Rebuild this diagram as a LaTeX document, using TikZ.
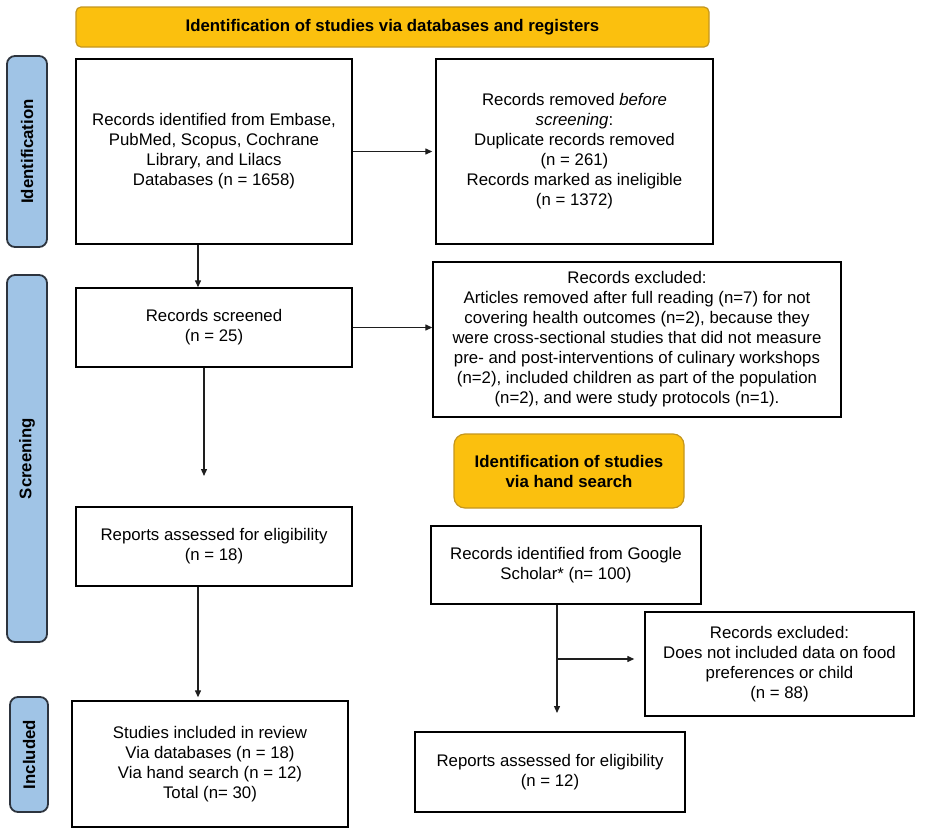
\documentclass[tikz,border=0pt]{standalone}
\usepackage{fontspec}
\setmainfont{Liberation Sans}
\usetikzlibrary{arrows.meta}
\definecolor{bannerfill}{RGB}{251,192,14}
\definecolor{bannerline}{RGB}{196,150,30}
\definecolor{phasefill}{RGB}{160,196,230}
\definecolor{phaseline}{RGB}{45,52,62}
\definecolor{arrline}{RGB}{30,30,30}
\begin{document}
\begin{tikzpicture}[x=1pt, y=-1pt,
		every node/.style={font=\fontsize{16.8}{20}\selectfont, align=center, inner sep=0pt},
		box/.style={draw=black, line width=1.4pt, fill=white},
		banner/.style={draw=bannerline, line width=1.2pt, fill=bannerfill, rounded corners=5pt, font=\fontsize{16.8}{20}\selectfont\bfseries},
		phase/.style={draw=phaseline, line width=1.8pt, fill=phasefill, rounded corners=8pt},
		arr/.style={draw=arrline, line width=1.3pt, -{Triangle[length=7pt, width=6pt]}}]
		\useasboundingbox (0,0) rectangle (935,835);
		\node[banner, minimum width=633pt, minimum height=40pt] (dbbanner) at (392.5,27) {Identification of studies via databases and registers};
		\node[phase, minimum width=40pt, minimum height=191pt] (idphase) at (27,151.5) {};
		\node[rotate=90, font=\fontsize{16.8}{20}\selectfont\bfseries] at (idphase) {Identification};
		\node[phase, minimum width=40pt, minimum height=367pt] (scrphase) at (27,458.5) {};
		\node[rotate=90, font=\fontsize{16.8}{20}\selectfont\bfseries] at (scrphase) {Screening};
		\node[phase, minimum width=38pt, minimum height=115pt] (incphase) at (29,754.5) {};
		\node[rotate=90, font=\fontsize{16.8}{20}\selectfont\bfseries] at (incphase) {Included};

		\node[box, minimum width=276pt, minimum height=185pt] (recid) at (214,151.5) {Records identified from Embase,\\PubMed, Scopus, Cochrane\\Library, and Lilacs\\Databases (n = 1658)};
		\node[box, minimum width=277pt, minimum height=185pt] (recrem) at (574.5,151.5) {Records removed \textit{before}\\\textit{screening}:\\Duplicate records removed\\(n = 261)\\Records marked as ineligible\\(n = 1372)};
		\node[box, minimum width=276pt, minimum height=79pt] (recscr) at (214,327.5) {Records screened\\(n = 25)};
		\node[box, minimum width=408pt, minimum height=155pt] (recexc) at (637,339.5) {Records excluded:\\Articles removed after full reading (n=7) for not\\covering health outcomes (n=2), because they\\were cross-sectional studies that did not measure\\pre- and post-interventions of culinary workshops\\(n=2), included children as part of the population\\(n=2), and were study protocols (n=1).};
		\node[box, minimum width=276pt, minimum height=79pt] (repelig) at (214,546.5) {Reports assessed for eligibility\\(n = 18)};
		\node[box, minimum width=276pt, minimum height=126pt] (incl) at (210,764) {Studies included in review\\Via databases (n = 18)\\Via hand search (n = 12)\\Total (n= 30)};

		\node[banner, rounded corners=11pt, minimum width=230pt, minimum height=74pt] (hsbanner) at (569,471) {Identification of studies\\via hand search};
		\node[box, minimum width=270pt, minimum height=78pt] (google) at (566,565) {Records identified from Google\\Scholar* (n= 100)};
		\node[box, minimum width=269pt, minimum height=104pt] (hsexc) at (779.5,664) {Records excluded:\\Does not included data on food\\preferences or child\\(n = 88)};
		\node[box, minimum width=270pt, minimum height=80pt] (hselig) at (550,772) {Reports assessed for eligibility\\(n = 12)};

		\coordinate (scrend) at (204,476);
		\coordinate (gsplit) at (557,659);
		\coordinate (gend) at (557,713);

		\draw[arr, shorten >=3pt] (recid.east) -- (recrem.west);
		\draw[arr] ([xshift=-16pt]recid.south) -- ([xshift=-16pt]recid.south |- recscr.north);
		\draw[arr] (recscr.east) -- (recexc.west |- recscr.east);
		\draw[arr] ([xshift=-10pt]recscr.south) -- (scrend);
		\draw[arr, shorten >=3pt] ([xshift=-16pt]repelig.south) -- ([xshift=-16pt]repelig.south |- incl.north);
		\draw[arr] (google.south -| gend) -- (gend);
		\draw[arr, shorten >=10pt] (gsplit) -- (gsplit -| hsexc.west);
	\end{tikzpicture}
\end{document}
